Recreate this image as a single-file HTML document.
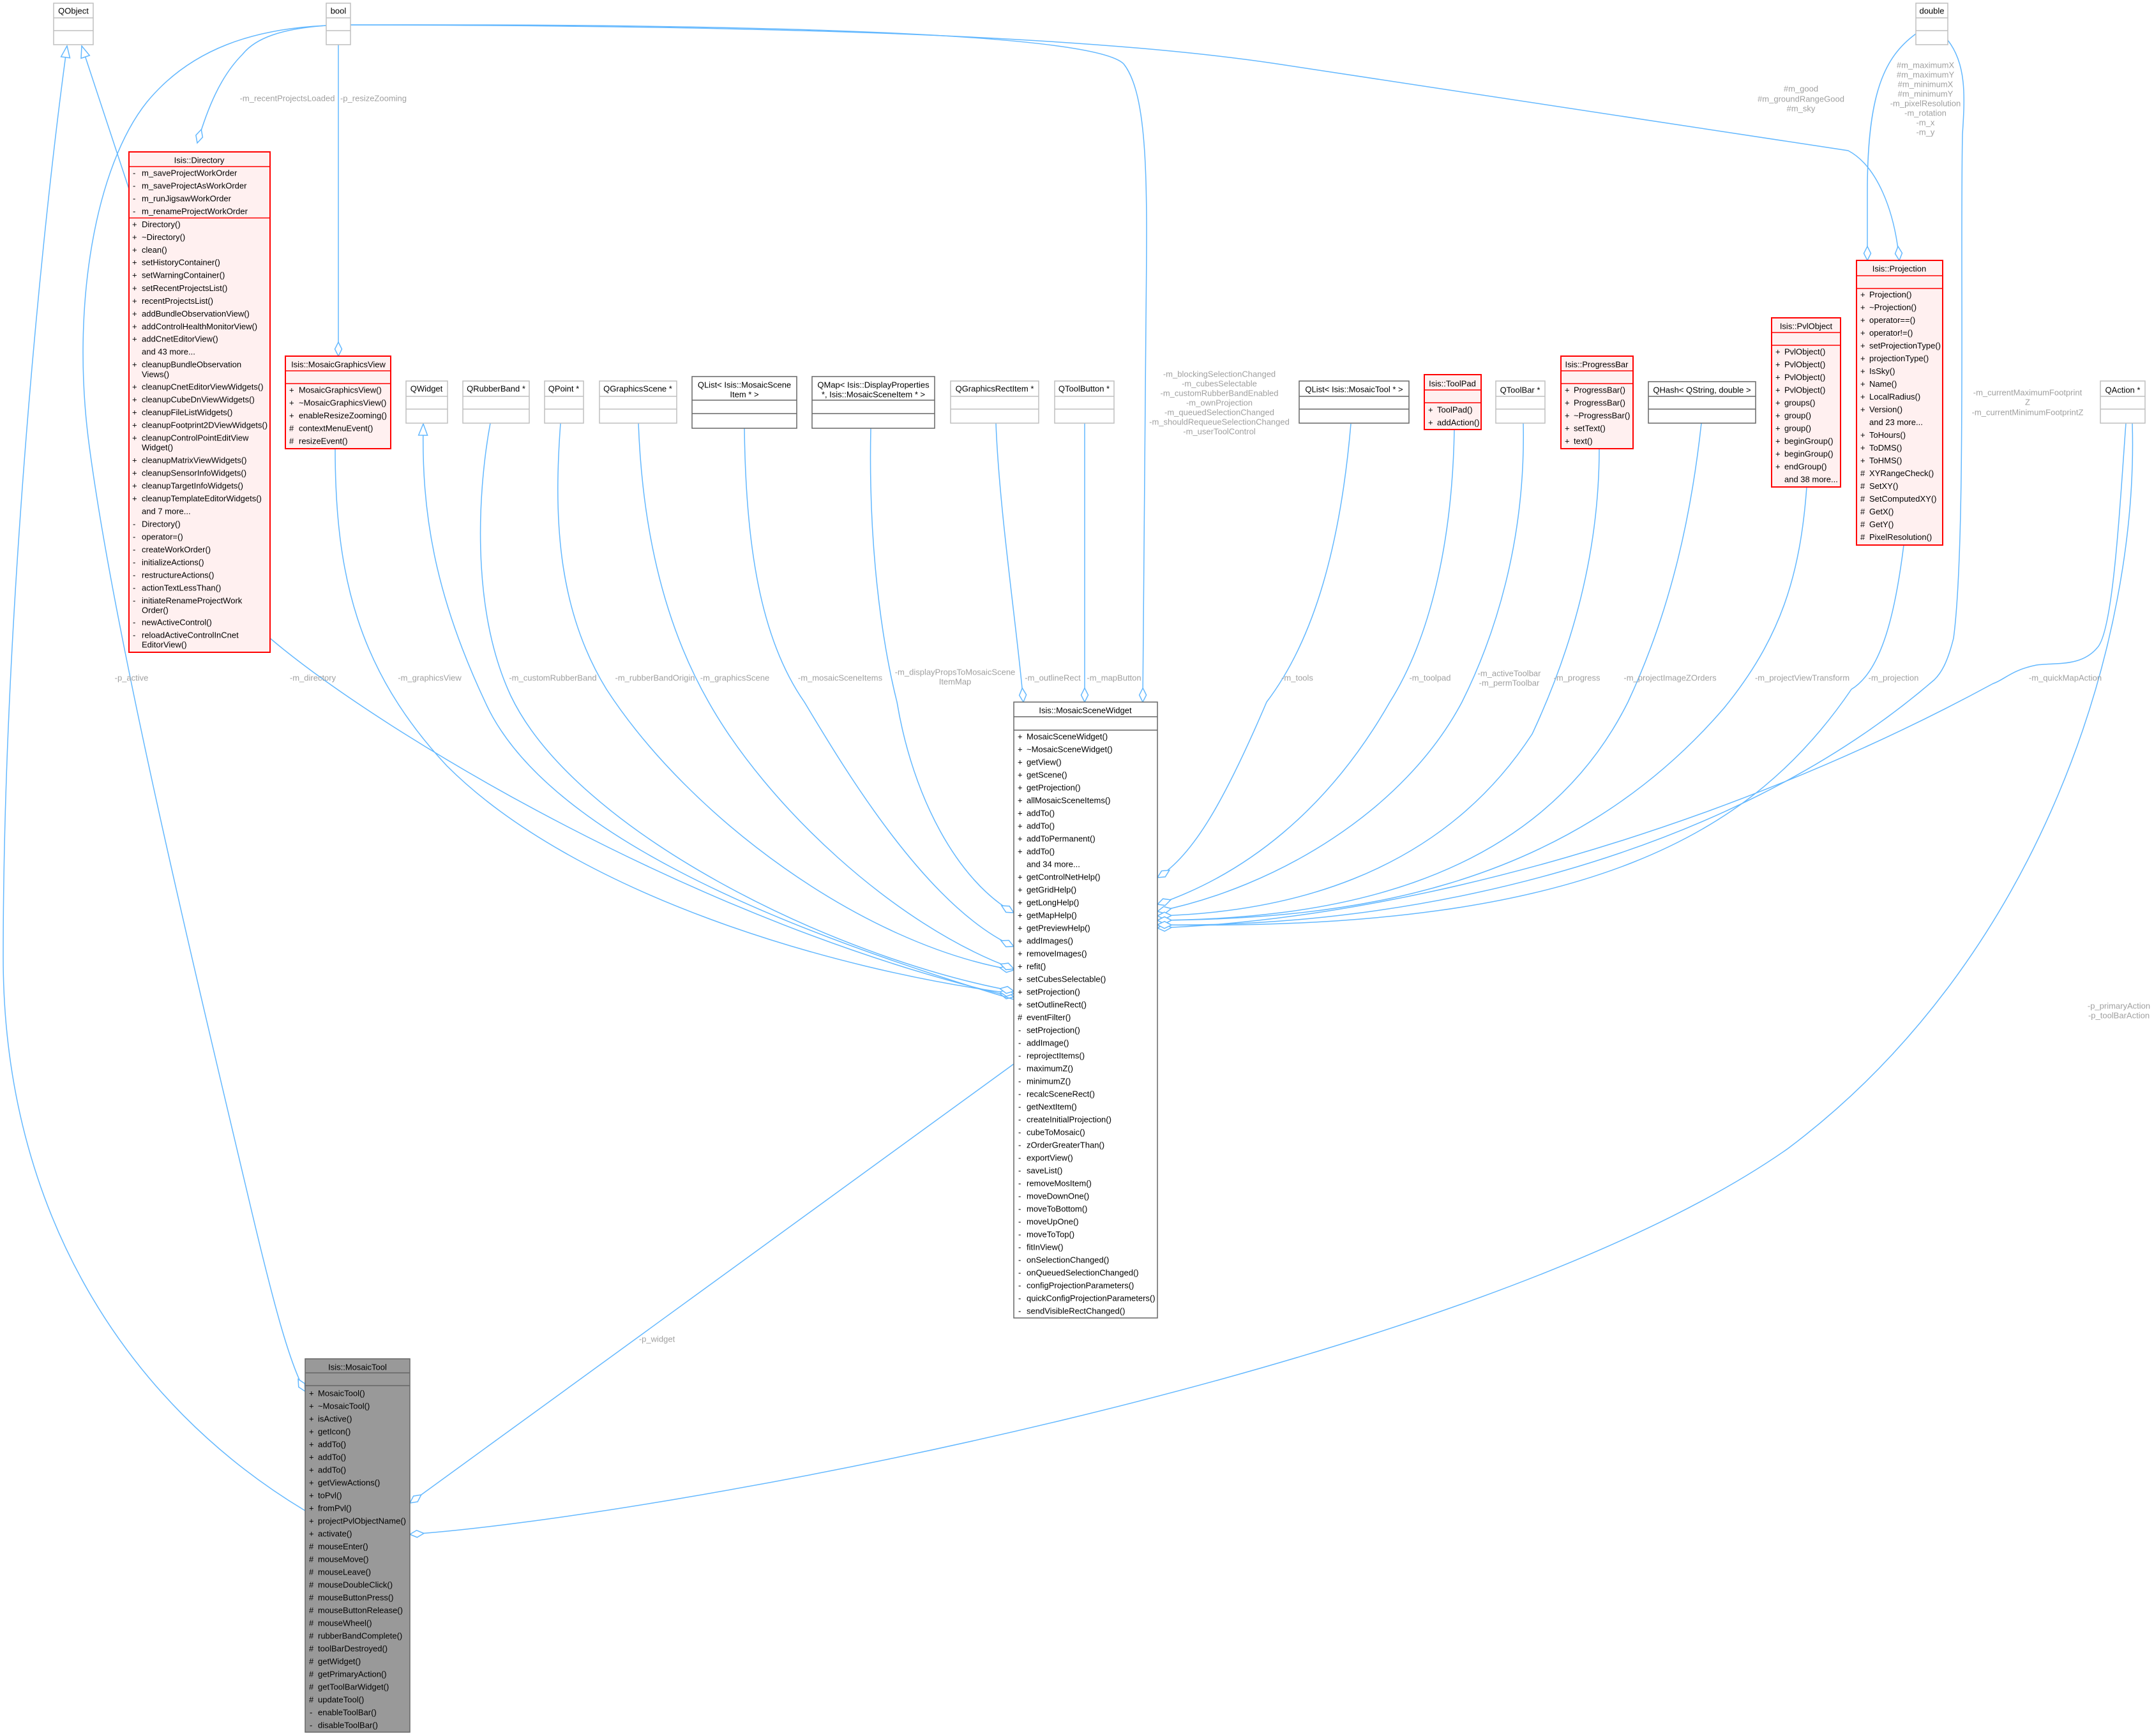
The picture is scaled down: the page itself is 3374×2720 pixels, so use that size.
<!DOCTYPE html>
<html><head><meta charset="utf-8"><style>
html,body{margin:0;padding:0;background:#fff;}
svg{display:block;}
text{font-family:"Liberation Sans",sans-serif;font-size:13px;dominant-baseline:central;}
.n{fill:#000;}
.l{fill:#a0a0a0;text-anchor:middle;}
.c{text-anchor:middle;}
.e{fill:none;stroke:#63B8FF;stroke-width:1.5;}
.gb{fill:#fff;stroke:#BFBFBF;stroke-width:1.5;}
.kb{fill:#fff;stroke:#666;stroke-width:1.5;}
.rb{fill:#FFF0F0;stroke:#FF0000;stroke-width:2;}
.gl{stroke:#BFBFBF;stroke-width:1.5;}
.kl{stroke:#666;stroke-width:1.5;}
.rl{stroke:#FF0000;stroke-width:1.5;}
</style></head><body>
<svg width="3374" height="2720" viewBox="0 0 3374 2720" xmlns="http://www.w3.org/2000/svg">
<defs>
<marker id="d" markerUnits="userSpaceOnUse" viewBox="-24 -7 26 14" refX="0" refY="0" markerWidth="26" markerHeight="14" orient="auto"><path d="M0,0 L-11,-5.5 L-22,0 L-11,5.5 Z" fill="#fff" stroke="#63B8FF" stroke-width="1.5"/></marker>
<marker id="t" markerUnits="userSpaceOnUse" viewBox="-20 -9 22 18" refX="0" refY="0" markerWidth="22" markerHeight="18" orient="auto"><path d="M0,0 L-18,-7 L-18,7 Z" fill="#fff" stroke="#63B8FF" stroke-width="1.5"/></marker>
</defs>

<!-- EDGES -->
<path class="e" marker-end="url(#t)" d="M202,296 L128,72"/>
<path class="e" marker-end="url(#t)" d="M478,2367 C200,2200 5,1900 5,1500 C5,1000 60,400 105,72"/>
<path class="e" marker-end="url(#d)" d="M511,40 C400,45 300,75 230,160 C150,260 110,480 140,700 C180,1000 300,1500 390,1880 C430,2050 455,2140 478,2180"/>
<path class="e" marker-end="url(#d)" d="M511,40 C440,45 400,60 380,85 C345,120 325,170 309,224"/>
<path class="e" marker-end="url(#d)" d="M530,70 L530,558"/>
<path class="e" marker-end="url(#d)" d="M549,39 C900,38 1700,40 1760,100 C1800,150 1797,300 1795,500 L1790,1100"/>
<path class="e" marker-end="url(#d)" d="M549,39 C1200,40 1700,55 2000,100 L2895,236 C2940,260 2968,330 2975,408"/>
<path class="e" marker-end="url(#d)" d="M3001,53 C2950,90 2925,150 2925,300 L2925,408"/>
<path class="e" marker-end="url(#d)" d="M3051,63 C3080,100 3078,150 3074,210 C3070,400 3080,850 3060,1000 C3050,1040 3040,1055 3030,1065 C2700,1350 2200,1455 1813,1449"/>
<path class="e" marker-end="url(#d)" d="M3330,663 C3320,800 3310,990 3285,1015 C3260,1045 3220,1038 3190,1042 C3150,1050 3140,1065 3122,1071 C2700,1300 2200,1440 1813,1454"/>
<path class="e" marker-end="url(#d)" d="M3340,663 C3350,1000 3200,1500 2800,1800 C2300,2150 1000,2380 642,2404"/>
<path class="e" marker-end="url(#d)" d="M1588,1667 L642,2355"/>
<path class="e" marker-end="url(#d)" d="M423,1000 C600,1150 1100,1450 1588,1562"/>
<path class="e" marker-end="url(#d)" d="M525,703 C525,900 560,1050 700,1200 C900,1400 1300,1520 1588,1557"/>
<path class="e" marker-end="url(#t)" d="M1588,1566 C1200,1450 850,1300 760,1100 C680,930 660,800 663,664"/>
<path class="e" marker-end="url(#d)" d="M768,663 C750,760 735,950 800,1090 C900,1300 1300,1500 1588,1553"/>
<path class="e" marker-end="url(#d)" d="M878,663 C868,800 870,950 950,1080 C1080,1280 1350,1480 1588,1520"/>
<path class="e" marker-end="url(#d)" d="M1000,663 C1005,800 1030,960 1110,1100 C1200,1260 1400,1450 1588,1518"/>
<path class="e" marker-end="url(#d)" d="M1166,671 C1168,850 1190,1000 1260,1100 C1320,1200 1450,1420 1588,1483"/>
<path class="e" marker-end="url(#d)" d="M1364,671 C1360,850 1380,1000 1405,1100 C1430,1250 1500,1380 1588,1430"/>
<path class="e" marker-end="url(#d)" d="M1560,663 C1565,800 1595,1000 1603,1100"/>
<path class="e" marker-end="url(#d)" d="M1699,663 L1699,1100"/>
<path class="e" marker-end="url(#d)" d="M2116,664 C2100,850 2060,1000 1984,1100 C1920,1250 1870,1340 1813,1375"/>
<path class="e" marker-end="url(#d)" d="M2278,673 C2275,850 2240,1000 2177,1100 C2080,1270 1950,1370 1813,1417"/>
<path class="e" marker-end="url(#d)" d="M2386,663 C2390,850 2340,1000 2290,1100 C2200,1270 2000,1390 1813,1428"/>
<path class="e" marker-end="url(#d)" d="M2505,703 C2505,850 2470,1000 2400,1150 C2250,1380 2000,1430 1813,1435"/>
<path class="e" marker-end="url(#d)" d="M2665,663 C2650,800 2620,950 2550,1100 C2400,1400 2050,1440 1813,1442"/>
<path class="e" marker-end="url(#d)" d="M2830,763 C2820,900 2790,1000 2700,1110 C2450,1400 2100,1440 1813,1442"/>
<path class="e" marker-end="url(#d)" d="M2982,854 C2970,950 2950,1050 2900,1080 C2750,1300 2500,1460 1813,1449"/>

<!-- EDGE LABELS -->
<g class="l">
<text x="450" y="154" text-anchor="middle">-m_recentProjectsLoaded</text>
<text x="585" y="154">-p_resizeZooming</text>
<text x="1910" y="586">-m_blockingSelectionChanged</text>
<text x="1910" y="601">-m_cubesSelectable</text>
<text x="1910" y="616">-m_customRubberBandEnabled</text>
<text x="1910" y="631">-m_ownProjection</text>
<text x="1910" y="646">-m_queuedSelectionChanged</text>
<text x="1910" y="661">-m_shouldRequeueSelectionChanged</text>
<text x="1910" y="676">-m_userToolControl</text>
<text x="2821" y="139">#m_good</text>
<text x="2821" y="155">#m_groundRangeGood</text>
<text x="2821" y="170">#m_sky</text>
<text x="3016" y="102">#m_maximumX</text>
<text x="3016" y="117">#m_maximumY</text>
<text x="3016" y="132">#m_minimumX</text>
<text x="3016" y="147">#m_minimumY</text>
<text x="3016" y="162">-m_pixelResolution</text>
<text x="3016" y="177">-m_rotation</text>
<text x="3016" y="192">-m_x</text>
<text x="3016" y="207">-m_y</text>
<text x="3176" y="615">-m_currentMaximumFootprint</text>
<text x="3176" y="630">Z</text>
<text x="3176" y="646">-m_currentMinimumFootprintZ</text>
<text x="206" y="1062">-p_active</text>
<text x="490" y="1062">-m_directory</text>
<text x="673" y="1062">-m_graphicsView</text>
<text x="866" y="1062">-m_customRubberBand</text>
<text x="1026" y="1062">-m_rubberBandOrigin</text>
<text x="1151" y="1062">-m_graphicsScene</text>
<text x="1316" y="1062">-m_mosaicSceneItems</text>
<text x="1496" y="1053">-m_displayPropsToMosaicScene</text>
<text x="1496" y="1068">ItemMap</text>
<text x="1649" y="1062">-m_outlineRect</text>
<text x="1745" y="1062">-m_mapButton</text>
<text x="2032" y="1062">-m_tools</text>
<text x="2240" y="1062">-m_toolpad</text>
<text x="2364" y="1055">-m_activeToolbar</text>
<text x="2364" y="1070">-m_permToolbar</text>
<text x="2470" y="1062">-m_progress</text>
<text x="2616" y="1062">-m_projectImageZOrders</text>
<text x="2823" y="1062">-m_projectViewTransform</text>
<text x="2966" y="1062">-m_projection</text>
<text x="3235" y="1062">-m_quickMapAction</text>
<text x="3319" y="1576">-p_primaryAction</text>
<text x="3319" y="1591">-p_toolBarAction</text>
<text x="1029" y="2098">-p_widget</text>
</g>

<!-- SIMPLE GRAY BOXES -->
<g>
<rect class="gb" x="84" y="5" width="62" height="65"/><line class="gl" x1="84" y1="28" x2="146" y2="28"/><line class="gl" x1="84" y1="48" x2="146" y2="48"/><text class="c" x="115" y="17">QObject</text>
<rect class="gb" x="511" y="5" width="38" height="65"/><line class="gl" x1="511" y1="28" x2="549" y2="28"/><line class="gl" x1="511" y1="48" x2="549" y2="48"/><text class="c" x="530" y="17">bool</text>
<rect class="gb" x="3001" y="5" width="50" height="65"/><line class="gl" x1="3001" y1="28" x2="3051" y2="28"/><line class="gl" x1="3001" y1="48" x2="3051" y2="48"/><text class="c" x="3026" y="17">double</text>

<rect class="gb" x="636" y="597" width="65" height="66"/><line class="gl" x1="636" y1="621" x2="701" y2="621"/><line class="gl" x1="636" y1="641" x2="701" y2="641"/><text class="c" x="668" y="609">QWidget</text>
<rect class="gb" x="725" y="597" width="104" height="66"/><line class="gl" x1="725" y1="621" x2="829" y2="621"/><line class="gl" x1="725" y1="641" x2="829" y2="641"/><text class="c" x="777" y="609">QRubberBand *</text>
<rect class="gb" x="853" y="597" width="61" height="66"/><line class="gl" x1="853" y1="621" x2="914" y2="621"/><line class="gl" x1="853" y1="641" x2="914" y2="641"/><text class="c" x="883" y="609">QPoint *</text>
<rect class="gb" x="939" y="597" width="121" height="66"/><line class="gl" x1="939" y1="621" x2="1060" y2="621"/><line class="gl" x1="939" y1="641" x2="1060" y2="641"/><text class="c" x="999" y="609">QGraphicsScene *</text>
<rect class="gb" x="1489" y="597" width="138" height="66"/><line class="gl" x1="1489" y1="621" x2="1627" y2="621"/><line class="gl" x1="1489" y1="641" x2="1627" y2="641"/><text class="c" x="1558" y="609">QGraphicsRectItem *</text>
<rect class="gb" x="1652" y="597" width="93" height="66"/><line class="gl" x1="1652" y1="621" x2="1745" y2="621"/><line class="gl" x1="1652" y1="641" x2="1745" y2="641"/><text class="c" x="1698" y="609">QToolButton *</text>
<rect class="gb" x="2343" y="597" width="77" height="66"/><line class="gl" x1="2343" y1="621" x2="2420" y2="621"/><line class="gl" x1="2343" y1="641" x2="2420" y2="641"/><text class="c" x="2381" y="611">QToolBar *</text>
<rect class="gb" x="3290" y="597" width="70" height="66"/><line class="gl" x1="3290" y1="621" x2="3360" y2="621"/><line class="gl" x1="3290" y1="641" x2="3360" y2="641"/><text class="c" x="3325" y="611">QAction *</text>
</g>

<!-- BLACK BORDER BOXES -->
<g>
<rect class="kb" x="1084" y="590" width="164" height="81"/><line class="kl" x1="1084" y1="627" x2="1248" y2="627"/><line class="kl" x1="1084" y1="648" x2="1248" y2="648"/><text class="c" x="1166" y="603">QList&lt; Isis::MosaicScene</text><text class="c" x="1166" y="618">Item * &gt;</text>
<rect class="kb" x="1272" y="590" width="192" height="81"/><line class="kl" x1="1272" y1="627" x2="1464" y2="627"/><line class="kl" x1="1272" y1="648" x2="1464" y2="648"/><text class="c" x="1368" y="603">QMap&lt; Isis::DisplayProperties</text><text class="c" x="1368" y="618"> *, Isis::MosaicSceneItem * &gt;</text>
<rect class="kb" x="2035" y="597" width="172" height="66"/><line class="kl" x1="2035" y1="621" x2="2207" y2="621"/><line class="kl" x1="2035" y1="641" x2="2207" y2="641"/><text class="c" x="2121" y="610">QList&lt; Isis::MosaicTool * &gt;</text>
<rect class="kb" x="2582" y="598" width="168" height="65"/><line class="kl" x1="2582" y1="621" x2="2750" y2="621"/><line class="kl" x1="2582" y1="641" x2="2750" y2="641"/><text class="c" x="2666" y="611">QHash&lt; QString, double &gt;</text>
</g>

<!-- ISIS::DIRECTORY -->
<g>
<rect class="rb" x="202" y="238" width="221" height="784"/>
<line class="rl" x1="202" y1="261" x2="423" y2="261"/><line class="rl" x1="202" y1="341.5" x2="423" y2="341.5"/>
<text class="c" x="312" y="251">Isis::Directory</text>
<g>
<text x="208" y="271">-</text><text x="222" y="271">m_saveProjectWorkOrder</text>
<text x="208" y="291">-</text><text x="222" y="291">m_saveProjectAsWorkOrder</text>
<text x="208" y="311">-</text><text x="222" y="311">m_runJigsawWorkOrder</text>
<text x="208" y="331">-</text><text x="222" y="331">m_renameProjectWorkOrder</text>
<text x="207" y="351.5">+</text><text x="222" y="351.5">Directory()</text>
<text x="207" y="371.6">+</text><text x="222" y="371.6">~Directory()</text>
<text x="207" y="391.7">+</text><text x="222" y="391.7">clean()</text>
<text x="207" y="411.1">+</text><text x="222" y="411.1">setHistoryContainer()</text>
<text x="207" y="431.2">+</text><text x="222" y="431.2">setWarningContainer()</text>
<text x="207" y="451.3">+</text><text x="222" y="451.3">setRecentProjectsList()</text>
<text x="207" y="471.4">+</text><text x="222" y="471.4">recentProjectsList()</text>
<text x="207" y="491.5">+</text><text x="222" y="491.5">addBundleObservationView()</text>
<text x="207" y="511.6">+</text><text x="222" y="511.6">addControlHealthMonitorView()</text>
<text x="207" y="531">+</text><text x="222" y="531">addCnetEditorView()</text>
<text x="222" y="551">and 43 more...</text>
<text x="207" y="571">+</text><text x="222" y="571">cleanupBundleObservation</text><text x="222" y="586.5">Views()</text>
<text x="207" y="606">+</text><text x="222" y="606">cleanupCnetEditorViewWidgets()</text>
<text x="207" y="626">+</text><text x="222" y="626">cleanupCubeDnViewWidgets()</text>
<text x="207" y="646">+</text><text x="222" y="646">cleanupFileListWidgets()</text>
<text x="207" y="666">+</text><text x="222" y="666">cleanupFootprint2DViewWidgets()</text>
<text x="207" y="686">+</text><text x="222" y="686">cleanupControlPointEditView</text><text x="222" y="701">Widget()</text>
<text x="207" y="721">+</text><text x="222" y="721">cleanupMatrixViewWidgets()</text>
<text x="207" y="741">+</text><text x="222" y="741">cleanupSensorInfoWidgets()</text>
<text x="207" y="761">+</text><text x="222" y="761">cleanupTargetInfoWidgets()</text>
<text x="207" y="781">+</text><text x="222" y="781">cleanupTemplateEditorWidgets()</text>
<text x="222" y="801">and 7 more...</text>
<text x="208" y="821">-</text><text x="222" y="821">Directory()</text>
<text x="208" y="841">-</text><text x="222" y="841">operator=()</text>
<text x="208" y="861">-</text><text x="222" y="861">createWorkOrder()</text>
<text x="208" y="881">-</text><text x="222" y="881">initializeActions()</text>
<text x="208" y="901">-</text><text x="222" y="901">restructureActions()</text>
<text x="208" y="921">-</text><text x="222" y="921">actionTextLessThan()</text>
<text x="208" y="941">-</text><text x="222" y="941">initiateRenameProjectWork</text><text x="222" y="956">Order()</text>
<text x="208" y="975">-</text><text x="222" y="975">newActiveControl()</text>
<text x="208" y="995">-</text><text x="222" y="995">reloadActiveControlInCnet</text><text x="222" y="1010">EditorView()</text>
</g>
</g>

<!-- MOSAIC GRAPHICS VIEW -->
<g>
<rect class="rb" x="447" y="558" width="165" height="145"/>
<line class="rl" x1="447" y1="581" x2="612" y2="581"/><line class="rl" x1="447" y1="601" x2="612" y2="601"/>
<text class="c" x="530" y="571">Isis::MosaicGraphicsView</text>
<text x="453" y="611">+</text><text x="468" y="611">MosaicGraphicsView()</text>
<text x="453" y="631">+</text><text x="468" y="631">~MosaicGraphicsView()</text>
<text x="453" y="651">+</text><text x="468" y="651">enableResizeZooming()</text>
<text x="453" y="671">#</text><text x="468" y="671">contextMenuEvent()</text>
<text x="453" y="691">#</text><text x="468" y="691">resizeEvent()</text>
</g>

<!-- TOOLPAD -->
<g>
<rect class="rb" x="2231" y="587" width="89" height="86"/>
<line class="rl" x1="2231" y1="611" x2="2320" y2="611"/><line class="rl" x1="2231" y1="631" x2="2320" y2="631"/>
<text class="c" x="2275" y="601">Isis::ToolPad</text>
<text x="2237" y="642">+</text><text x="2251" y="642">ToolPad()</text>
<text x="2237" y="662">+</text><text x="2251" y="662">addAction()</text>
</g>

<!-- PROGRESS BAR -->
<g>
<rect class="rb" x="2445" y="558" width="113" height="145"/>
<line class="rl" x1="2445" y1="581" x2="2558" y2="581"/><line class="rl" x1="2445" y1="601" x2="2558" y2="601"/>
<text class="c" x="2501" y="571">Isis::ProgressBar</text>
<text x="2451" y="611">+</text><text x="2465" y="611">ProgressBar()</text>
<text x="2451" y="631">+</text><text x="2465" y="631">ProgressBar()</text>
<text x="2451" y="651">+</text><text x="2465" y="651">~ProgressBar()</text>
<text x="2451" y="671">+</text><text x="2465" y="671">setText()</text>
<text x="2451" y="691">+</text><text x="2465" y="691">text()</text>
</g>

<!-- PVLOBJECT -->
<g>
<rect class="rb" x="2775" y="498" width="108" height="265"/>
<line class="rl" x1="2775" y1="521" x2="2883" y2="521"/><line class="rl" x1="2775" y1="541" x2="2883" y2="541"/>
<text class="c" x="2829" y="511">Isis::PvlObject</text>
<text x="2781" y="551">+</text><text x="2795" y="551">PvlObject()</text>
<text x="2781" y="571">+</text><text x="2795" y="571">PvlObject()</text>
<text x="2781" y="591">+</text><text x="2795" y="591">PvlObject()</text>
<text x="2781" y="611">+</text><text x="2795" y="611">PvlObject()</text>
<text x="2781" y="631">+</text><text x="2795" y="631">groups()</text>
<text x="2781" y="651">+</text><text x="2795" y="651">group()</text>
<text x="2781" y="671">+</text><text x="2795" y="671">group()</text>
<text x="2781" y="691">+</text><text x="2795" y="691">beginGroup()</text>
<text x="2781" y="711">+</text><text x="2795" y="711">beginGroup()</text>
<text x="2781" y="731">+</text><text x="2795" y="731">endGroup()</text>
<text x="2795" y="751">and 38 more...</text>
</g>

<!-- PROJECTION -->
<g>
<rect class="rb" x="2908" y="408" width="135" height="446"/>
<line class="rl" x1="2908" y1="432" x2="3043" y2="432"/><line class="rl" x1="2908" y1="452" x2="3043" y2="452"/>
<text class="c" x="2975" y="421">Isis::Projection</text>
<text x="2914" y="461.5">+</text><text x="2928" y="461.5">Projection()</text>
<text x="2914" y="481.5">+</text><text x="2928" y="481.5">~Projection()</text>
<text x="2914" y="501.5">+</text><text x="2928" y="501.5">operator==()</text>
<text x="2914" y="521.5">+</text><text x="2928" y="521.5">operator!=()</text>
<text x="2914" y="541.5">+</text><text x="2928" y="541.5">setProjectionType()</text>
<text x="2914" y="561.5">+</text><text x="2928" y="561.5">projectionType()</text>
<text x="2914" y="581.5">+</text><text x="2928" y="581.5">IsSky()</text>
<text x="2914" y="601.5">+</text><text x="2928" y="601.5">Name()</text>
<text x="2914" y="621.5">+</text><text x="2928" y="621.5">LocalRadius()</text>
<text x="2914" y="641.5">+</text><text x="2928" y="641.5">Version()</text>
<text x="2928" y="661.5">and 23 more...</text>
<text x="2914" y="681.5">+</text><text x="2928" y="681.5">ToHours()</text>
<text x="2914" y="701.5">+</text><text x="2928" y="701.5">ToDMS()</text>
<text x="2914" y="721.5">+</text><text x="2928" y="721.5">ToHMS()</text>
<text x="2914" y="741.5">#</text><text x="2928" y="741.5">XYRangeCheck()</text>
<text x="2914" y="761.5">#</text><text x="2928" y="761.5">SetXY()</text>
<text x="2914" y="781.5">#</text><text x="2928" y="781.5">SetComputedXY()</text>
<text x="2914" y="801.5">#</text><text x="2928" y="801.5">GetX()</text>
<text x="2914" y="821.5">#</text><text x="2928" y="821.5">GetY()</text>
<text x="2914" y="841.5">#</text><text x="2928" y="841.5">PixelResolution()</text>
</g>

<!-- MOSAIC SCENE WIDGET -->
<g>
<rect class="kb" x="1588" y="1100" width="225" height="965"/>
<line class="kl" x1="1588" y1="1123" x2="1813" y2="1123"/><line class="kl" x1="1588" y1="1144" x2="1813" y2="1144"/>
<text class="c" x="1700" y="1113">Isis::MosaicSceneWidget</text>
<text x="1594" y="1154">+</text><text x="1608" y="1154">MosaicSceneWidget()</text>
<text x="1594" y="1174">+</text><text x="1608" y="1174">~MosaicSceneWidget()</text>
<text x="1594" y="1194">+</text><text x="1608" y="1194">getView()</text>
<text x="1594" y="1214">+</text><text x="1608" y="1214">getScene()</text>
<text x="1594" y="1234">+</text><text x="1608" y="1234">getProjection()</text>
<text x="1594" y="1254">+</text><text x="1608" y="1254">allMosaicSceneItems()</text>
<text x="1594" y="1274">+</text><text x="1608" y="1274">addTo()</text>
<text x="1594" y="1294">+</text><text x="1608" y="1294">addTo()</text>
<text x="1594" y="1314">+</text><text x="1608" y="1314">addToPermanent()</text>
<text x="1594" y="1334">+</text><text x="1608" y="1334">addTo()</text>
<text x="1608" y="1354">and 34 more...</text>
<text x="1594" y="1374">+</text><text x="1608" y="1374">getControlNetHelp()</text>
<text x="1594" y="1394">+</text><text x="1608" y="1394">getGridHelp()</text>
<text x="1594" y="1414">+</text><text x="1608" y="1414">getLongHelp()</text>
<text x="1594" y="1434">+</text><text x="1608" y="1434">getMapHelp()</text>
<text x="1594" y="1454">+</text><text x="1608" y="1454">getPreviewHelp()</text>
<text x="1594" y="1474">+</text><text x="1608" y="1474">addImages()</text>
<text x="1594" y="1494">+</text><text x="1608" y="1494">removeImages()</text>
<text x="1594" y="1514">+</text><text x="1608" y="1514">refit()</text>
<text x="1594" y="1534">+</text><text x="1608" y="1534">setCubesSelectable()</text>
<text x="1594" y="1554">+</text><text x="1608" y="1554">setProjection()</text>
<text x="1594" y="1574">+</text><text x="1608" y="1574">setOutlineRect()</text>
<text x="1594" y="1594">#</text><text x="1608" y="1594">eventFilter()</text>
<text x="1595" y="1614">-</text><text x="1608" y="1614">setProjection()</text>
<text x="1595" y="1634">-</text><text x="1608" y="1634">addImage()</text>
<text x="1595" y="1654">-</text><text x="1608" y="1654">reprojectItems()</text>
<text x="1595" y="1674">-</text><text x="1608" y="1674">maximumZ()</text>
<text x="1595" y="1694">-</text><text x="1608" y="1694">minimumZ()</text>
<text x="1595" y="1714">-</text><text x="1608" y="1714">recalcSceneRect()</text>
<text x="1595" y="1734">-</text><text x="1608" y="1734">getNextItem()</text>
<text x="1595" y="1754">-</text><text x="1608" y="1754">createInitialProjection()</text>
<text x="1595" y="1774">-</text><text x="1608" y="1774">cubeToMosaic()</text>
<text x="1595" y="1794">-</text><text x="1608" y="1794">zOrderGreaterThan()</text>
<text x="1595" y="1814">-</text><text x="1608" y="1814">exportView()</text>
<text x="1595" y="1834">-</text><text x="1608" y="1834">saveList()</text>
<text x="1595" y="1854">-</text><text x="1608" y="1854">removeMosItem()</text>
<text x="1595" y="1874">-</text><text x="1608" y="1874">moveDownOne()</text>
<text x="1595" y="1894">-</text><text x="1608" y="1894">moveToBottom()</text>
<text x="1595" y="1914">-</text><text x="1608" y="1914">moveUpOne()</text>
<text x="1595" y="1934">-</text><text x="1608" y="1934">moveToTop()</text>
<text x="1595" y="1954">-</text><text x="1608" y="1954">fitInView()</text>
<text x="1595" y="1974">-</text><text x="1608" y="1974">onSelectionChanged()</text>
<text x="1595" y="1994">-</text><text x="1608" y="1994">onQueuedSelectionChanged()</text>
<text x="1595" y="2014">-</text><text x="1608" y="2014">configProjectionParameters()</text>
<text x="1595" y="2034">-</text><text x="1608" y="2034">quickConfigProjectionParameters()</text>
<text x="1595" y="2054">-</text><text x="1608" y="2054">sendVisibleRectChanged()</text>
</g>

<!-- MOSAIC TOOL -->
<g>
<rect x="478" y="2129" width="164" height="585" fill="#999999" stroke="#666" stroke-width="1.5"/>
<line class="kl" x1="478" y1="2151" x2="642" y2="2151"/><line class="kl" x1="478" y1="2171" x2="642" y2="2171"/>
<text class="c" x="560" y="2142">Isis::MosaicTool</text>
<text x="484" y="2183">+</text><text x="498" y="2183">MosaicTool()</text>
<text x="484" y="2203">+</text><text x="498" y="2203">~MosaicTool()</text>
<text x="484" y="2223">+</text><text x="498" y="2223">isActive()</text>
<text x="484" y="2243">+</text><text x="498" y="2243">getIcon()</text>
<text x="484" y="2263">+</text><text x="498" y="2263">addTo()</text>
<text x="484" y="2283">+</text><text x="498" y="2283">addTo()</text>
<text x="484" y="2303">+</text><text x="498" y="2303">addTo()</text>
<text x="484" y="2323">+</text><text x="498" y="2323">getViewActions()</text>
<text x="484" y="2343">+</text><text x="498" y="2343">toPvl()</text>
<text x="484" y="2363">+</text><text x="498" y="2363">fromPvl()</text>
<text x="484" y="2383">+</text><text x="498" y="2383">projectPvlObjectName()</text>
<text x="484" y="2403">+</text><text x="498" y="2403">activate()</text>
<text x="484" y="2423">#</text><text x="498" y="2423">mouseEnter()</text>
<text x="484" y="2443">#</text><text x="498" y="2443">mouseMove()</text>
<text x="484" y="2463">#</text><text x="498" y="2463">mouseLeave()</text>
<text x="484" y="2483">#</text><text x="498" y="2483">mouseDoubleClick()</text>
<text x="484" y="2503">#</text><text x="498" y="2503">mouseButtonPress()</text>
<text x="484" y="2523">#</text><text x="498" y="2523">mouseButtonRelease()</text>
<text x="484" y="2543">#</text><text x="498" y="2543">mouseWheel()</text>
<text x="484" y="2563">#</text><text x="498" y="2563">rubberBandComplete()</text>
<text x="484" y="2583">#</text><text x="498" y="2583">toolBarDestroyed()</text>
<text x="484" y="2603">#</text><text x="498" y="2603">getWidget()</text>
<text x="484" y="2623">#</text><text x="498" y="2623">getPrimaryAction()</text>
<text x="484" y="2643">#</text><text x="498" y="2643">getToolBarWidget()</text>
<text x="484" y="2663">#</text><text x="498" y="2663">updateTool()</text>
<text x="485" y="2683">-</text><text x="498" y="2683">enableToolBar()</text>
<text x="485" y="2703">-</text><text x="498" y="2703">disableToolBar()</text>
</g>
</svg>
</body></html>
